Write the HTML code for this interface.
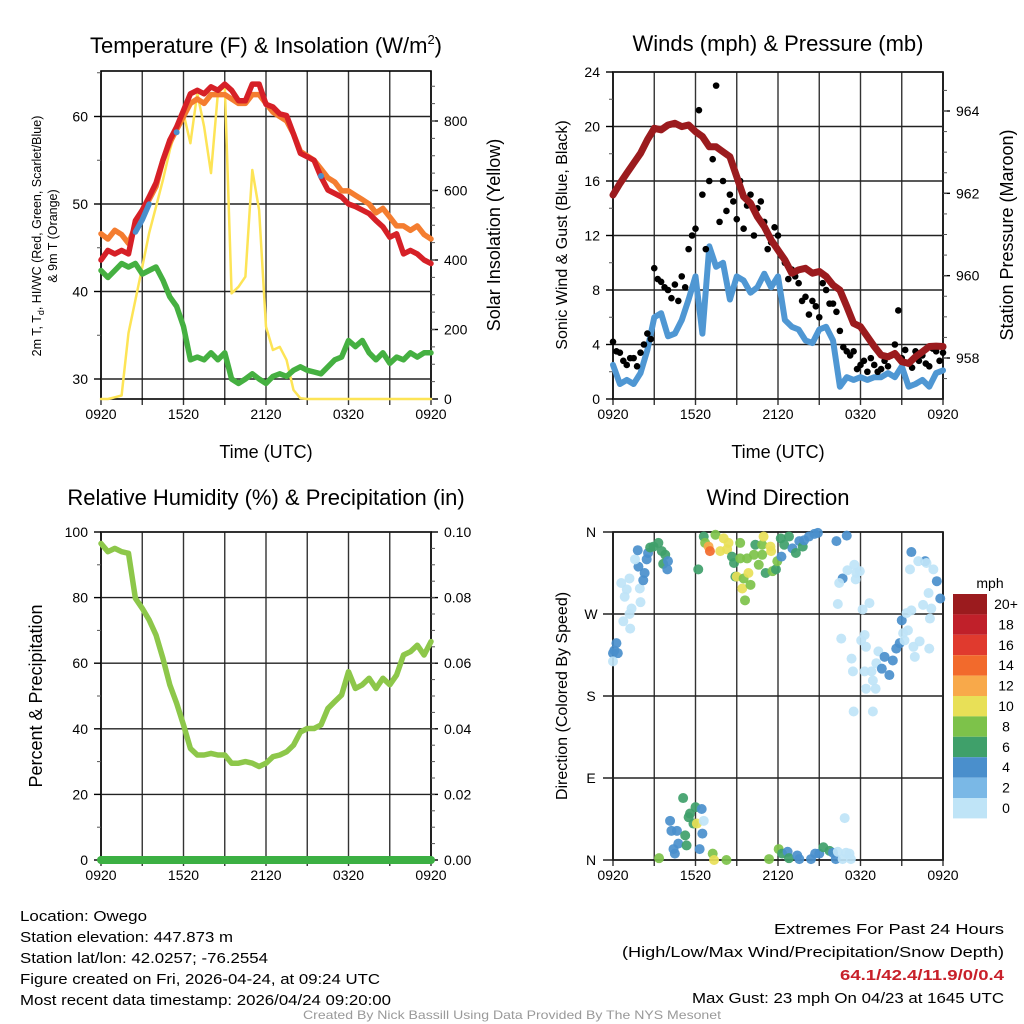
<!DOCTYPE html>
<html><head><meta charset="utf-8"><style>
html,body{margin:0;padding:0;background:#fff;}
svg{display:block;font-family:"Liberation Sans",Arial,sans-serif;}
</style></head><body>
<svg id="chart" width="1024" height="1024" viewBox="0 0 1024 1024" xmlns="http://www.w3.org/2000/svg">
<rect width="1024" height="1024" fill="#fff"/>
<g id="g1"></g>
<g id="g2"></g>
<g id="g3"></g>
<g id="g4"></g>
<g font-size="22" text-anchor="middle" fill="#000">
<text x="266" y="53">Temperature (F) &amp; Insolation (W/m<tspan font-size="13" dy="-9">2</tspan><tspan dy="9">)</tspan></text>
<text x="778" y="51">Winds (mph) &amp; Pressure (mb)</text>
<text x="266" y="505">Relative Humidity (%) &amp; Precipitation (in)</text>
<text x="778" y="505">Wind Direction</text>
</g>
<g font-size="18" text-anchor="middle">
<text x="266" y="458">Time (UTC)</text>
<text x="778" y="458">Time (UTC)</text>
<text transform="translate(500,235) rotate(-90)">Solar Insolation (Yellow)</text>
<text transform="translate(1013,235) rotate(-90)">Station Pressure (Maroon)</text>
<text transform="translate(42,696) rotate(-90)">Percent &amp; Precipitation</text>
</g>
<g font-size="16" text-anchor="middle">
<text transform="translate(567,235) rotate(-90)">Sonic Wind &amp; Gust (Blue, Black)</text>
<text transform="translate(567,696) rotate(-90)">Direction (Colored By Speed)</text>
</g>
<g font-size="12.5" text-anchor="middle">
<text transform="translate(41,236) rotate(-90)">2m T, T<tspan font-size="9" dy="3">d</tspan><tspan dy="-3">, HI/WC (Red, Green, Scarlet/Blue)</tspan></text>
<text transform="translate(57,236) rotate(-90)">&amp; 9m T (Orange)</text>
</g>
<g id="legend"><text x="990" y="588" font-size="14" text-anchor="middle">mph</text></g>
<g font-size="15" fill="#000">
<text x="20" y="921" textLength="127" lengthAdjust="spacingAndGlyphs">Location: Owego</text>
<text x="20" y="942" textLength="213" lengthAdjust="spacingAndGlyphs">Station elevation: 447.873 m</text>
<text x="20" y="963" textLength="248" lengthAdjust="spacingAndGlyphs">Station lat/lon: 42.0257; -76.2554</text>
<text x="20" y="984" textLength="360" lengthAdjust="spacingAndGlyphs">Figure created on Fri, 2026-04-24, at 09:24 UTC</text>
<text x="20" y="1005" textLength="371" lengthAdjust="spacingAndGlyphs">Most recent data timestamp: 2026/04/24 09:20:00</text>
<text x="774" y="934" textLength="230" lengthAdjust="spacingAndGlyphs">Extremes For Past 24 Hours</text>
<text x="622" y="957" textLength="382" lengthAdjust="spacingAndGlyphs">(High/Low/Max Wind/Precipitation/Snow Depth)</text>
<text x="840" y="980" textLength="164" lengthAdjust="spacingAndGlyphs" fill="#c8202a" font-weight="bold">64.1/42.4/11.9/0/0.4</text>
<text x="692" y="1003" textLength="312" lengthAdjust="spacingAndGlyphs">Max Gust: 23 mph On 04/23 at 1645 UTC</text>
<text x="303" y="1019" font-size="12" fill="#999" textLength="418" lengthAdjust="spacingAndGlyphs">Created By Nick Bassill Using Data Provided By The NYS Mesonet</text>
</g>
</svg>
<script>
// ---- data (index = half-hour steps from 0920 UTC) ----
const timeLabels = ['0920','','1520','','2120','','0320','','0920'];
const temp2m = [43.6,44.7,44.3,44.7,44.3,48.1,49.3,50.8,52.4,55,57.3,58.8,60.7,62.6,63,62.6,63.4,63,63.7,63,61.8,61.8,63.7,63.7,61.4,61.1,60.3,60.1,58,55.8,55.4,55,53.1,51.6,51.2,50.8,50,49.7,49.3,48.9,48.1,47.4,46.2,46.6,44.3,44.7,44.3,43.6,43.2];
const temp9m = [46.6,46,47,46.5,45.5,47.5,49,50.5,52,55,57,58.5,60,61.5,62,61.5,62.5,62.5,62.5,62,61.5,61.5,62.5,62.5,61.5,60.5,60,59.5,58,56,55.5,55,54,53,52.5,51.5,51.5,51,50.5,50,49,49.5,48.5,47.5,47.5,47,47.5,46.5,46];
const dewpoint = [42.4,41.6,42.4,43.2,42.8,43.2,42,42.4,42.8,41.3,39.4,38.3,36,32.2,32.5,32.2,33,32.2,33,30,29.5,30,30.6,30,29.5,30.3,30.6,30.3,31,31.4,31,30.8,30.6,31.4,32.2,32.5,34.4,33.7,34.4,33,32.2,33,31.8,32.5,32.2,33,32.5,33,33];
const heatWind = [null,null,null,null,null,46.8,48.2,50,null,null,null,58.2,null,null,null,null,null,null,null,null,null,null,null,null,null,null,null,null,null,null,null,null,53.2,null,null,null,null,null,null,null,null,null,null,null,null,null,null,null,null];
const solar = [0,0,5,10,190,285,380,477,553,630,716,784,822,736,880,784,650,880,900,304,323,352,659,544,208,141,150,112,26,2,0,0,0,0,0,0,0,0,0,0,0,0,0,0,0,0,0,0,0];
const windSpeed = [2.5,1.1,1.4,1.1,1.9,3.6,6,6.3,4.6,4.8,5.8,7.3,9,4.8,11.2,9.7,10,7.3,9,8.7,7.8,8.2,9.2,8.2,9,5.8,5.3,5.1,4.3,4.1,5.1,5.3,4.3,0.9,1.6,1.4,1.6,1.4,1.6,1.6,1.9,1.6,2.4,0.9,1.1,1.4,0.9,1.9,2.1];
const gustA = [4.2,3.4,2.5,3,3.4,4.8,9.6,8.6,8,8.4,9,11,12.5,15,16,23,16,15,13.2,12.5,15,14,13,11.5,12,10,9.5,8.5,7.5,7.2,6,8,7,5,3.5,3.5,2.5,2,2.5,2.2,2.4,4,3,2.6,3.5,3.2,2.4,3.5,3.8];
const gustB = [3.5,2.8,3,2.4,4,4.4,8.8,8.2,7.4,7.2,8.2,12,21.2,11,17.6,13,13.8,14.5,16,14.2,12,14.5,11,12.6,10.5,8.8,9,7.2,6.2,6.8,8.5,7,6.4,3.8,3.2,2.2,2.8,3,2,2.8,3.2,6.5,3.6,2.3,2.8,2.6,3.7,2.8,3.4];
const pressure = [961.96,962.24,962.49,962.73,962.97,963.3,963.58,963.54,963.66,963.7,963.62,963.66,963.5,963.38,963.13,963.13,963.01,962.89,962.4,961.92,961.76,961.43,961.19,960.87,960.62,960.38,960.06,960.14,960.18,960.06,960.1,959.98,959.77,959.65,959.25,958.84,958.76,958.52,958.28,958.07,958.03,958.11,957.91,957.87,958.03,958.15,958.28,958.29,958.28];
const humidity = [96.5,94,95,94,93.5,79.8,76.7,73.2,68.6,61.5,53.4,47.8,41.2,34,32,32,32.5,32,32,29.5,29.5,30,29.5,28.5,29.5,31.5,32,33,35,39,40.1,40.1,41.2,46.2,48.3,50.3,57.4,52.3,53.4,55.4,52.3,55.4,53.4,56.4,62.5,63.5,65.5,62.5,66.6];
const precip = [0,0,0,0,0,0,0,0,0,0,0,0,0,0,0,0,0,0,0,0,0,0,0,0,0,0,0,0,0,0,0,0,0,0,0,0,0,0,0,0,0,0,0,0,0,0,0,0,0];
const dirTime = [0,0.2,0.7,0.5,0,1.5,2.5,2.4,2.7,4,1.7,1.2,2,2.4,3.9,4.4,4.6,3.7,3.2,3.6,5.1,4.9,5.4,5.9,6.6,7.1,7.6,7.3,8,7.9,12.4,13.2,13.4,13.9,14.1,14.9,15.6,16.1,16.8,16.6,17.3,17.6,17.8,18,18.5,18.5,19,18.8,19.2,19.5,19.7,20,20.5,20.7,21.2,21.7,21.7,21.9,22.2,22.9,23,23.2,23.7,23.9,24.4,24.5,24.9,25.6,26.1,26.6,27.1,27.6,27.8,28.5,29.3,29.8,32.5,34,32.7,33.2,33.4,32.9,34.1,35.1,35.4,35.9,35.3,36.3,37.3,34.7,34.9,36.1,36.6,36.8,36.6,36.8,37.6,37.8,38.2,38.3,38.6,39.1,39.5,40.7,40.2,41.2,41.7,42,42.2,42.9,42.4,43.9,43.7,44.6,46,42.7,43.4,45.1,46.1,46.3,45.9,46.6,45.4,45.6,44.4,43.2,43.4,47.1,47.6,35,37.8,6.7,8.3,8.5,9.3,8.8,9,9.5,10.2,10.5,10.7,11,11.2,11.7,12,12.2,12.9,13.2,13,12.6,14.5,14.7,16.5,22.7,24.1,24.6,25.4,25.6,26.8,27.1,28.8,29.4,30,30.6,31.5,32,32.4,32.7,33.4,33.9,34.4,34.6,33.7];
const dirDeg = [227,230,227,238,218,262,254,270,276,283,289,304,297,309,298,307,315,322,330,340,337,330,343,344,348,339,335,325,328,319,319,355,348,344,339,357,339,353,348,341,333,326,311,311,348,331,309,298,285,331,315,302,335,346,324,346,335,355,315,344,339,317,319,328,353,333,346,355,342,337,350,344,351,355,358,359,350,356,281,243,309,304,318,324,315,317,308,275,282,221,207,241,247,234,207,188,207,197,188,216,229,210,223,219,203,232,238,263,249,252,241,223,234,240,232,271,274,280,265,276,293,319,328,326,328,319,338,306,287,163,163,2,43,32,32,12,7,18,68,27,16,47,51,40,58,40,56,43,29,12,7,0,0,1,12,7,9,2,5,1,1,7,7,14,10,8,1,9,1,8,7,1,46];
const dirSpeed = [3,3,3,3,1,1,1,1,1,1,1,1,1,1,1,3,3,3,1,3,3,3,5,5,5,5,5,5,3,3,5,5,7,11,13,7,9,9,9,9,5,5,5,9,7,7,7,9,7,7,9,7,7,5,7,7,7,9,5,9,9,7,5,7,5,3,5,5,3,5,3,5,3,3,3,3,3,3,1,1,3,1,1,1,1,1,1,1,1,1,1,1,1,1,1,1,1,1,1,1,1,3,3,3,3,3,3,3,1,1,1,1,1,1,1,1,1,1,1,1,1,1,3,1,1,1,3,3,3,1,1,7,3,3,3,3,3,3,5,5,5,5,5,5,5,9,3,1,3,3,7,9,7,7,7,5,3,5,3,3,3,3,3,5,5,3,3,1,1,1,1,1,1];
const speedLabels = ['20+','18','16','14','12','10','8','6','4','2','0'];
const speedColors = ['#9b1b1e','#c0202a','#e03a2e','#f26a2c','#f8a94a','#e8e057','#7dc24a','#3fa06a','#4a8fcc','#7ab8e6','#bfe4f7'];

// ---- helpers ----
const NS='http://www.w3.org/2000/svg';
function mk(parent, tag, at){const e=document.createElementNS(NS,tag);for(const k in at)e.setAttribute(k,at[k]);parent.appendChild(e);return e;}
const N = temp2m.length - 1;
function xScale(x0){return i => x0 + i*330/N;}
function lin(d0,d1,r0,r1){return v => r0 + (v-d0)*(r1-r0)/(d1-d0);}
function pathFrom(arr, xs, ys){let d='',pen=false;arr.forEach((v,i)=>{if(v===null){pen=false;return;}d+=(pen?'L':'M')+xs(i).toFixed(1)+','+ys(v).toFixed(1);pen=true;});return d;}
function line(g,arr,xs,ys,color,w,name){
  const p=mk(g,'path',{d:pathFrom(arr,xs,ys),fill:'none',stroke:color,'stroke-width':w,'stroke-linejoin':'round','stroke-linecap':'round'});
  
  
}
function frame(g,x0,y0,x1,y1,xs,name){
  for(let k=0;k<=8;k++){
    const x=xs(k*6);
    const l=mk(g,'line',{x1:x,y1:y0,x2:x,y2:y1+6,stroke:'#333','stroke-width':1.4});
    
    
    if(timeLabels[k]){
      const t=mk(g,'text',{x:x,y:y1+20,'font-size':14,'text-anchor':'middle'});t.textContent=timeLabels[k];
      
      
    }
  }
  const r=mk(g,'rect',{x:x0,y:y0,width:x1-x0,height:y1-y0,fill:'none',stroke:'#000','stroke-width':1.6});
  
  
}
function yAxis(g,vals,labels,ys,xpos,side,minor,grid,x0,x1){
  vals.forEach((v,i)=>{
    const y=ys(v);
    if(grid){const gl=mk(g,'line',{x1:x0,y1:y,x2:x1,y2:y,stroke:'#222','stroke-width':1.4});
      
      }
    const tk=mk(g,'line',{x1:xpos,y1:y,x2:xpos+side*7,y2:y,stroke:'#000','stroke-width':1.4});
    
    
    const t=mk(g,'text',{x:xpos+side*13,y:y+5,'font-size':14,'text-anchor':side<0?'end':'start'});t.textContent=labels[i];
    
    
  });
  minor.forEach(v=>{const y=ys(v);const m=mk(g,'line',{x1:xpos,y1:y,x2:xpos+side*4,y2:y,stroke:'#555','stroke-width':1});
    
    });
}
function range(a,b,s){const r=[];for(let v=a;v<=b+1e-9;v+=s)r.push(+v.toFixed(4));return r;}

// ---- panel 1: temperature ----
(function(){
  const g=document.getElementById('g1');
  const xs=xScale(101), yt=lin(30,60,379,116.5), yw=lin(0,800,399,121);
  frame(g,101,71,431,399,xs,'temperature');
  yAxis(g,[30,40,50,60],['30','40','50','60'],yt,101,-1,[35,45,55,65],true,101,431);
  yAxis(g,[0,200,400,600,800],['0','200','400','600','800'],yw,431,1,range(50,900,50),false);
  line(g,solar,xs,yw,'#fde456',2.5,'solar-line');
  line(g,dewpoint,xs,yt,'#45b041',5.5,'dewpoint-line');
  line(g,temp9m,xs,yt,'#f47d30',5.5,'temp-9m-line');
  line(g,temp2m,xs,yt,'#d62027',5.5,'temp-2m-line');
  line(g,heatWind,xs,yt,'#4a8fcc',5.5,'heat-index-line');
  heatWind.forEach((v,i)=>{if(v!==null&&heatWind[i-1]==null&&heatWind[i+1]==null){const c=mk(g,'circle',{cx:xs(i),cy:yt(v),r:3,fill:'#4a8fcc'});
    
    }});
})();

// ---- panel 2: winds ----
(function(){
  const g=document.getElementById('g2');
  const xs=xScale(613), yv=lin(0,24,399,72), yp=lin(958,964,358,111);
  frame(g,613,72,943,399,xs,'winds');
  yAxis(g,range(0,24,4),['0','4','8','12','16','20','24'],yv,613,-1,range(2,22,4),true,613,943);
  yAxis(g,[958,960,962,964],['958','960','962','964'],yp,943,1,range(957.5,964.5,0.5),false);
  line(g,windSpeed,xs,yv,'#4f97d3',6,'wind-speed-line');
  gustA.forEach((v,i)=>{const c=mk(g,'circle',{cx:xs(i),cy:yv(v),r:3.3,fill:'#000'});
    
    });
  gustB.forEach((v,i)=>{const c=mk(g,'circle',{cx:xs(Math.min(N,i+0.5)),cy:yv(v),r:3.3,fill:'#000'});
    
    });
  line(g,pressure,xs,yp,'#9b1b1e',7,'pressure-line');
})();

// ---- panel 3: humidity ----
(function(){
  const g=document.getElementById('g3');
  const xs=xScale(101), yh=lin(0,100,860,532), yr=lin(0,0.1,860,532);
  frame(g,101,532,431,860,xs,'humidity');
  yAxis(g,range(0,100,20),['0','20','40','60','80','100'],yh,101,-1,range(10,90,20),true,101,431);
  yAxis(g,range(0,0.1,0.02),['0.00','0.02','0.04','0.06','0.08','0.10'],yr,431,1,range(0.005,0.095,0.005),false);
  line(g,humidity,xs,yh,'#8dc74a',5.5,'humidity-line');
  line(g,precip,xs,yr,'#3cb043',8,'precipitation-line');
})();

// ---- panel 4: wind direction ----
(function(){
  const g=document.getElementById('g4');
  const xs=xScale(613), yd=lin(0,360,860,532);
  frame(g,613,532,943,860,xs,'direction');
  const dv=[0,90,180,270,360], dl=['N','E','S','W','N'];
  dv.forEach((v,i)=>{const y=yd(v);
    const gl=mk(g,'line',{x1:603,y1:y,x2:943,y2:y,stroke:'#222','stroke-width':1.4});
    
    
    const t=mk(g,'text',{x:591,y:y+5,'font-size':14,'text-anchor':'middle'});t.textContent=dl[i];
    
    });
  dirTime.forEach((tm,i)=>{
    const s=dirSpeed[i];
    const idx = s<2 ? 10 : Math.max(0,10-Math.ceil(s/2));
    const c=mk(g,'circle',{cx:xs(tm),cy:yd(dirDeg[i]),r:5,fill:speedColors[idx],'fill-opacity':0.92});
    
    
  });
  const lg=document.getElementById('legend');
  speedLabels.forEach((lab,i)=>{
    const y=594+i*20.4;
    const r=mk(lg,'rect',{x:953,y:y,width:34,height:20.4,fill:speedColors[i]});
    
    
    const t=mk(lg,'text',{x:1006,y:y+15,'font-size':14,'text-anchor':'middle'});t.textContent=lab;
    
    
  });
})();
</script>
</body></html>
